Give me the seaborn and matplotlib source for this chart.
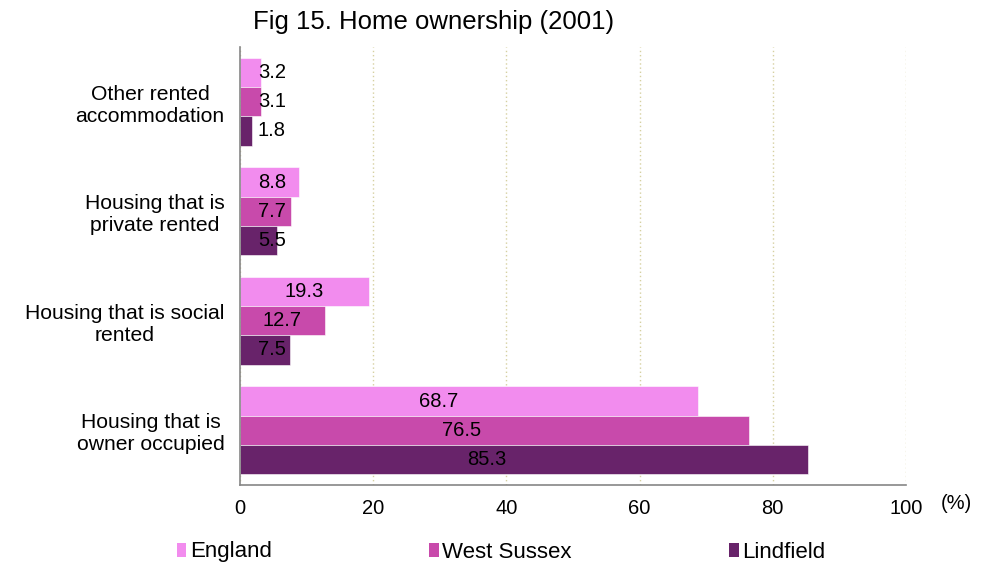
import numpy as np
import pandas as pd
import matplotlib.pyplot as plt
import seaborn as sns
from matplotlib.patches import Patch

# --- data ---
categories = ["Other rented\naccommodation", "Housing that is\nprivate rented",
              "Housing that is social\nrented", "Housing that is\nowner occupied"]
areas = ["England", "West Sussex", "Lindfield"]
england = [3.2, 8.8, 19.3, 68.7]
west_sussex = [3.1, 7.7, 12.7, 76.5]
lindfield = [1.8, 5.5, 7.5, 85.3]
colors = ["#F28CEE", "#C84AAB", "#68236A"]

df = pd.DataFrame({
    "category": categories * 3,
    "area": np.repeat(areas, len(categories)),
    "value": england + west_sussex + lindfield,
})

sns.set_style("white")
plt.rcParams["font.family"] = ["Liberation Sans", "DejaVu Sans"]
plt.rcParams["text.color"] = "black"
plt.rcParams["xtick.color"] = "black"
plt.rcParams["ytick.color"] = "black"

fig = plt.figure(figsize=(9.88, 5.66), dpi=100)
ax = fig.add_axes([240 / 988, 1 - 485 / 566, 666 / 988, 438 / 566])

sns.barplot(data=df, y="category", x="value", hue="area", order=categories,
            hue_order=areas, palette=colors, saturation=1, orient="h", width=0.8,
            edgecolor="white", linewidth=0.4, legend=False, ax=ax)

# value labels (Excel-ish placement: near bar centre, kept off the axis)
for cont in ax.containers:
    for bar in cont:
        v = bar.get_width()
        xpos = max(4.8, v * 0.435 if v > 30 else v / 2)
        ax.text(xpos, bar.get_y() + bar.get_height() / 2, f"{v:.1f}",
                ha="center", va="center", fontsize=14.5, color="black")

ax.set_xlim(0, 100)
ax.set_ylim(3.5, -0.5)
ax.set_xticks(range(0, 101, 20))
ax.tick_params(axis="x", labelsize=14.5, length=5, width=1, color="#868686",
               labelcolor="black", direction="out", pad=5)
ax.set_yticks([-0.5, 0.5, 1.5, 2.5, 3.5])
ax.set_yticklabels([])
ax.set_yticks(range(4), minor=True)
ax.set_yticklabels(categories, minor=True, fontsize=15.2, multialignment="center")
ax.tick_params(axis="y", which="major", length=5, width=1, color="#868686",
               direction="out")
ax.tick_params(axis="y", which="minor", length=0, pad=11, labelcolor="black")
ax.set_xlabel("")
ax.set_ylabel("")

ax.grid(axis="x", color="#D6D0A0", linestyle=(0, (1, 2)), linewidth=1)
ax.grid(axis="y", visible=False)
ax.set_axisbelow(True)
for s in ["top", "right"]:
    ax.spines[s].set_visible(False)
for s in ["left", "bottom"]:
    ax.spines[s].set_color("#868686")
    ax.spines[s].set_linewidth(1.2)

ax.text(1.075, -0.02, "(%)", transform=ax.transAxes, fontsize=14.5,
        ha="center", va="top")

fig.text(0.439, 0.962, "Fig 15. Home ownership (2001)", ha="center",
         va="center", fontsize=18.5)

handles = [Patch(facecolor=c, edgecolor="none") for c in colors]
fig.legend(handles, areas, loc="center left", bbox_to_anchor=(177 / 988, 1 - 552 / 566),
           ncol=3, frameon=False, fontsize=16, handlelength=0.42, handleheight=0.6,
           handletextpad=0.15, columnspacing=7.1, borderaxespad=0, borderpad=0)

fig.savefig("out.png", dpi=100)
